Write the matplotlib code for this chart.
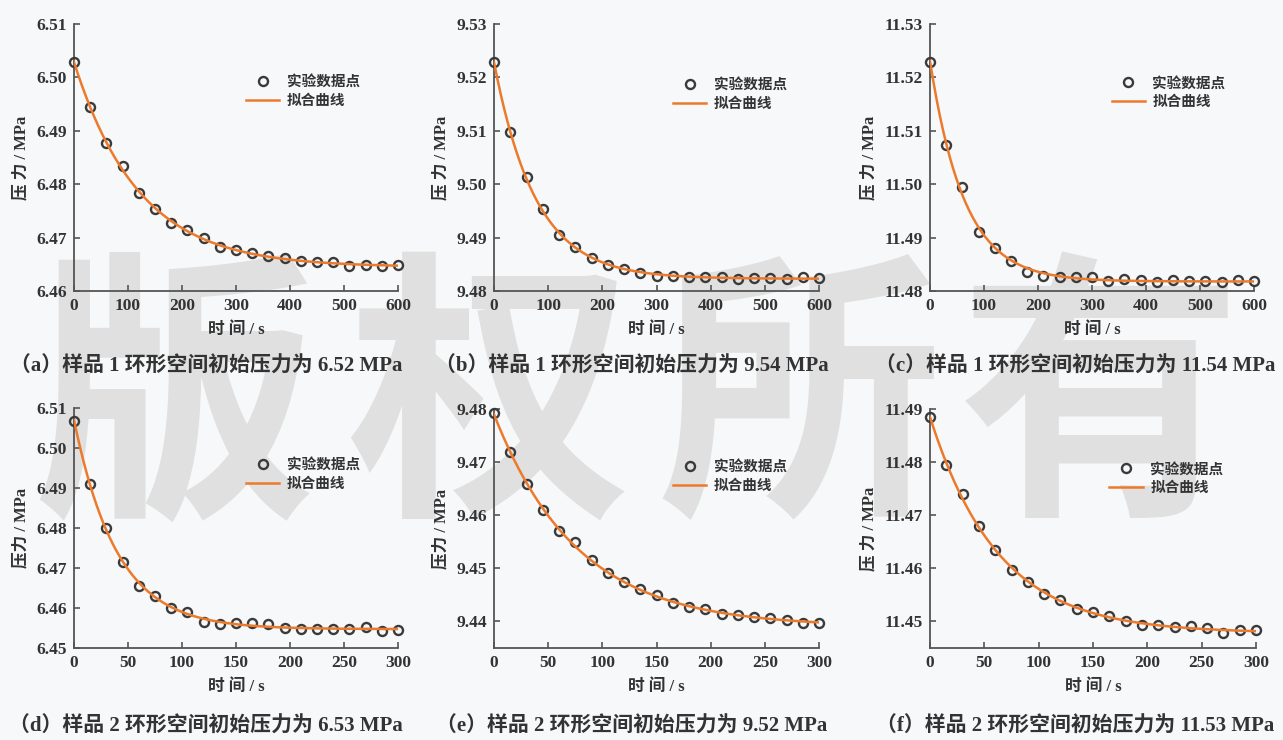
import numpy as np
import matplotlib
matplotlib.use("Agg")
import matplotlib.pyplot as plt

# time axes (s)
t_long = [0, 30, 60, 90, 120, 150, 180, 210, 240, 270, 300,
          330, 360, 390, 420, 450, 480, 510, 540, 570, 600]
t_short = [0, 15, 30, 45, 60, 75, 90, 105, 120, 135, 150,
           165, 180, 195, 210, 225, 240, 255, 270, 285, 300]

p_a = [6.5028, 6.4944, 6.4878, 6.4834, 6.4783, 6.4753, 6.4728, 6.4714, 6.4699, 6.4682, 6.4676,
       6.4672, 6.4665, 6.4662, 6.4657, 6.4654, 6.4654, 6.4647, 6.4649, 6.4647, 6.4648]
p_b = [9.5228, 9.5097, 9.5014, 9.4953, 9.4904, 9.4883, 9.4861, 9.4849, 9.4841, 9.4834, 9.4829,
       9.4829, 9.4826, 9.4826, 9.4827, 9.4823, 9.4824, 9.4824, 9.4823, 9.4826, 9.4824]
p_c = [11.5229, 11.5074, 11.4994, 11.4911, 11.4880, 11.4857, 11.4836, 11.4828, 11.4826, 11.4827, 11.4826,
       11.4819, 11.4823, 11.4820, 11.4816, 11.4821, 11.4819, 11.4818, 11.4816, 11.4820, 11.4818]
p_d = [6.5068, 6.4909, 6.4800, 6.4715, 6.4655, 6.4631, 6.4599, 6.4589, 6.4566, 6.4561, 6.4563,
       6.4563, 6.4560, 6.4551, 6.4548, 6.4548, 6.4548, 6.4547, 6.4553, 6.4543, 6.4545]
p_e = [9.4792, 9.4719, 9.4659, 9.4609, 9.4571, 9.4549, 9.4515, 9.4491, 9.4474, 9.4461, 9.4449,
       9.4435, 9.4428, 9.4424, 9.4414, 9.4412, 9.4409, 9.4406, 9.4402, 9.4398, 9.4398]
p_f = [11.4884, 11.4794, 11.4740, 11.4679, 11.4635, 11.4597, 11.4575, 11.4551, 11.4541, 11.4523, 11.4517,
       11.4511, 11.4500, 11.4494, 11.4494, 11.4489, 11.4491, 11.4487, 11.4479, 11.4483, 11.4484]

captions = ["（a）样品 1 环形空间初始压力为 6.52 MPa",
            "（b）样品 1 环形空间初始压力为 9.54 MPa",
            "（c）样品 1 环形空间初始压力为 11.54 MPa",
            "（d）样品 2 环形空间初始压力为 6.53 MPa",
            "（e）样品 2 环形空间初始压力为 9.52 MPa",
            "（f）样品 2 环形空间初始压力为 11.53 MPa"]
ylabels = ["压 力 / MPa", "压 力 / MPa", "压 力 / MPa",
           "压力 / MPa", "压力 / MPa", "压 力 / MPa"]
xlabel = "时 间 / s"

ylims = [(6.46, 6.51), (9.48, 9.53), (11.48, 11.53),
         (6.45, 6.51), (9.435, 9.48), (11.445, 11.49)]
yticks = [np.arange(6.46, 6.5101, 0.01), np.arange(9.48, 9.5301, 0.01), np.arange(11.48, 11.5301, 0.01),
          np.arange(6.45, 6.5101, 0.01), np.arange(9.44, 9.4801, 0.01), np.arange(11.45, 11.4901, 0.01)]

series = [(t_long, p_a), (t_long, p_b), (t_long, p_c),
          (t_short, p_d), (t_short, p_e), (t_short, p_f)]

# axes boxes in pixels: left, top, right, bottom
boxes = [(74, 24, 398, 291), (494, 24, 819, 291), (930, 24, 1254, 291),
         (74, 408, 398, 648), (494, 409, 819, 648), (930, 409, 1256, 648)]
leg_pos = [(0.49, 0.865), (0.51, 0.855), (0.52, 0.86),
           (0.49, 0.855), (0.51, 0.85), (0.51, 0.84)]
cap_x = [206, 632, 1075, 206, 632, 1075]


def exp_fit(t, p):
    # p = c + a*exp(-t/tau), least squares over a tau grid
    t = np.asarray(t, float)
    p = np.asarray(p, float)
    best = None
    for tau in np.linspace(5, 400, 2000):
        A = np.column_stack([np.ones_like(t), np.exp(-t / tau)])
        coef = np.linalg.lstsq(A, p, rcond=None)[0]
        err = np.sum((A @ coef - p) ** 2)
        if best is None or err < best[0]:
            best = (err, coef, tau)
    _, (c, a), tau = best
    return lambda x: c + a * np.exp(-x / tau)


W, H = 1283, 740
bg = "#f6f8f9"
fig = plt.figure(figsize=(W / 100, H / 100), dpi=100, facecolor=bg)

num_font = ["Liberation Serif", "Noto Sans CJK SC"]
zh_font = ["Liberation Serif", "Noto Sans CJK SC"]
dark = "#333333"

# watermark
for ch, cx in zip("版权所有", [175, 490, 800, 1100]):
    fig.text(cx / W, 1 - 410 / H, ch, fontsize=205, family="Noto Sans CJK SC",
             color="#e0e0e0", ha="center", va="center", zorder=0, weight="bold")

for i, ((t, p), box) in enumerate(zip(series, boxes)):
    l, tp, r, b = box
    ax = fig.add_axes([l / W, 1 - b / H, (r - l) / W, (b - tp) / H])
    ax.patch.set_alpha(0)
    ax.set_zorder(2)

    f = exp_fit(t, p)
    tt = np.linspace(0, t[-1], 400)
    ax.plot(t, p, "o", ms=6.5, mfc="none", mec="#3a3a3a", mew=1.7,
            label="实验数据点", clip_on=False, zorder=3)
    ax.plot(tt, f(tt), color="#ec7a2c", lw=1.8, label="拟合曲线", zorder=4)

    ax.set_xlim(0, t[-1])
    ax.set_ylim(*ylims[i])
    ax.set_yticks(yticks[i])
    ax.set_yticklabels(["%.2f" % v for v in yticks[i]])
    step = 100 if t[-1] == 600 else 50
    ax.set_xticks(np.arange(0, t[-1] + 1, step))

    for s in ["top", "right"]:
        ax.spines[s].set_visible(False)
    for s in ["left", "bottom"]:
        ax.spines[s].set_color("#555555")
        ax.spines[s].set_linewidth(1.3)
    ax.tick_params(direction="in", length=4, width=1.2, color="#555555",
                   labelsize=12.5, labelcolor=dark, pad=5)
    for lab in ax.get_xticklabels() + ax.get_yticklabels():
        lab.set_family(num_font)
        lab.set_weight("bold")

    ax.set_xlabel(xlabel, family=zh_font, fontsize=12, color=dark,
                  weight="bold", labelpad=6)
    ax.set_ylabel(ylabels[i], family=zh_font, fontsize=12, color=dark,
                  weight="bold", labelpad=5)

    leg = ax.legend(loc="upper left", bbox_to_anchor=leg_pos[i], frameon=False,
                    prop={"family": "Noto Sans CJK SC", "size": 10.5, "weight": "bold"},
                    handlelength=2.3, handletextpad=0.5, labelspacing=0.2)
    for txt in leg.get_texts():
        txt.set_color(dark)

    cy = 367 if i < 3 else 727
    fig.text(cap_x[i] / W, 1 - cy / H, captions[i], family=zh_font, fontsize=15,
             color=dark, weight="bold", ha="center", va="center")

fig.savefig("out.png", dpi=100, facecolor=bg)
